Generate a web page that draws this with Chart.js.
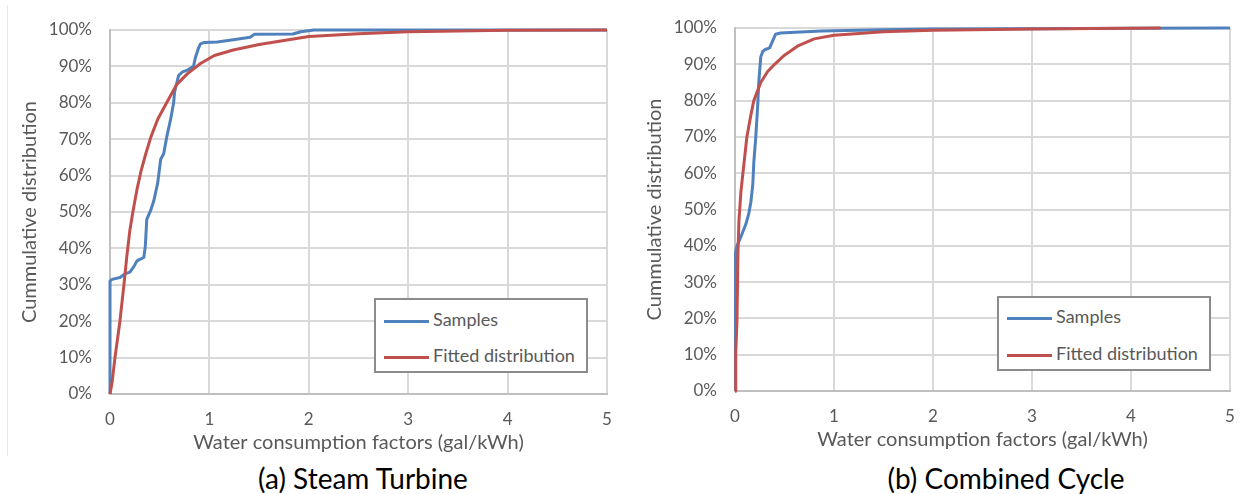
<!DOCTYPE html>
<html>
<head>
<meta charset="utf-8">
<script src="https://cdn.jsdelivr.net/npm/chart.js@4"></script>
<style>
  body { margin: 0; background: #fff; font-family: Lato, "Open Sans", sans-serif; }
  #wrap { position: relative; width: 1243px; height: 494px; overflow: hidden; }
  canvas { position: absolute; }
  .legend { position: absolute; background: #fff; border: 2px solid #8c8c8c; box-sizing: border-box; color: #595959; font-size: 18px; }
  .legend div { position: absolute; left: 8px; height: 20px; line-height: 20px; white-space: nowrap; }
  .legend span { display: inline-block; width: 45px; height: 3px; vertical-align: middle; margin-right: 4px; }
  .caption { position: absolute; top: 461px; font-size: 28px; color: #000; transform: translateX(-50%); white-space: nowrap; }
  .frame { position: absolute; left: 7px; top: 5px; width: 1px; height: 451px; background: #e9e9e9; }
</style>
</head>
<body>
<div id="wrap">
  <div class="frame"></div>
  <canvas id="steam" width="620" height="460" style="left:0;top:0"></canvas>
  <canvas id="combined" width="618" height="460" style="left:625px;top:-3px"></canvas>

  <div class="legend" style="left:374px;top:298px;width:214px;height:75px">
    <div style="top:9px"><span style="background:#4f81bd"></span>Samples</div>
    <div style="top:45px"><span style="background:#c0504d"></span>Fitted distribution</div>
  </div>
  <div class="legend" style="left:997px;top:296px;width:214px;height:75px">
    <div style="top:8px"><span style="background:#4f81bd"></span>Samples</div>
    <div style="top:45px"><span style="background:#c0504d"></span>Fitted distribution</div>
  </div>

  <div class="caption" style="left:363px">(a) Steam Turbine</div>
  <div class="caption" style="left:1006px">(b) Combined Cycle</div>
</div>

<script>
// axis ticks
const xTicks = [0, 1, 2, 3, 4, 5];
const yTicks = [0, 10, 20, 30, 40, 50, 60, 70, 80, 90, 100];

// (a) Steam Turbine - samples (gal/kWh, %)
const stSampleX = [0, 0, 0.02, 0.1, 0.15, 0.2, 0.24, 0.27, 0.3, 0.34, 0.355, 0.37, 0.41, 0.44, 0.48, 0.51, 0.54, 0.57, 0.61, 0.64, 0.65, 0.69, 0.73, 0.78, 0.84, 0.86, 0.89, 0.91, 0.95, 1.08, 1.24, 1.41, 1.45, 1.84, 1.92, 2.05, 5];
const stSampleY = [0, 31, 31.5, 32, 33, 33.5, 35, 36.5, 37, 37.5, 40.5, 48, 50.5, 53, 58, 64.5, 66, 70.5, 75.5, 80, 83, 87.5, 88.5, 89, 90, 92.5, 95, 96.2, 96.6, 96.7, 97.3, 98, 98.8, 98.9, 99.5, 100, 100];
// (a) Steam Turbine - fitted distribution
const stFitX = [0, 0.02, 0.05, 0.1, 0.14, 0.17, 0.2, 0.23, 0.27, 0.31, 0.36, 0.41, 0.48, 0.57, 0.67, 0.78, 0.91, 1.05, 1.24, 1.5, 2, 2.5, 3, 4, 5];
const stFitY = [0, 3, 10, 20, 30, 38, 45, 50, 56, 61, 66, 70.5, 75.5, 80, 85, 88, 90.8, 93, 94.5, 96, 98.2, 99, 99.5, 99.9, 100];

// (b) Combined Cycle - samples
const ccSampleX = [0, 0, 0.01, 0.02, 0.06, 0.11, 0.14, 0.16, 0.18, 0.19, 0.21, 0.23, 0.24, 0.26, 0.28, 0.3, 0.35, 0.41, 0.46, 0.87, 1.5, 2, 3, 4, 5];
const ccSampleY = [0, 20, 38, 40, 42.5, 46, 49, 52, 57, 63, 70, 79, 85, 92, 93.5, 94, 94.5, 98.3, 98.6, 99.2, 99.5, 99.7, 99.8, 99.9, 100];
// (b) Combined Cycle - fitted distribution
const ccFitX = [0, 0.005, 0.01, 0.02, 0.03, 0.04, 0.06, 0.08, 0.12, 0.16, 0.19, 0.26, 0.33, 0.4, 0.5, 0.63, 0.8, 1.0, 1.5, 2, 3, 4.3];
const ccFitY = [0, 5, 10.4, 19.5, 38, 47, 55, 60, 70, 76, 80, 85, 88, 90, 92.5, 95, 97, 98, 99, 99.4, 99.7, 100];

const BLUE = "#4f81bd";
const RED = "#c0504d";
const FONT = "Lato, 'Open Sans', sans-serif";

function pts(xs, ys) {
  return xs.map((x, i) => ({ x: x, y: ys[i] }));
}

function makeChart(id, sx, sy, fx, fy, padTop) {
  const line = (label, data, color, order) => ({
    label, data, order,
    borderColor: color,
    borderWidth: 3,
    pointRadius: 0,
    showLine: true,
    tension: 0,
    clip: 4,
    borderJoinStyle: "round"
  });

  new Chart(document.getElementById(id), {
    type: "scatter",
    data: {
      datasets: [
        line("Samples", pts(sx, sy), BLUE, 1),
        line("Fitted distribution", pts(fx, fy), RED, 0)
      ]
    },
    options: {
      responsive: false,
      animation: false,
      devicePixelRatio: 1,
      layout: { padding: { top: padTop, right: 13, left: 0, bottom: 0 } },
      plugins: { legend: { display: false }, tooltip: { enabled: false } },
      scales: {
        x: {
          type: "linear",
          min: 0, max: 5,
          afterBuildTicks: s => { s.ticks = xTicks.map(v => ({ value: v })); },
          // tick padding would otherwise eat into the plot width
          afterFit: s => { s.height = 66; s.paddingLeft = 0; s.paddingRight = 0; },
          grid: { color: "#d9d9d9", lineWidth: 2, drawTicks: false },
          border: { color: "#bfbfbf", width: 2 },
          ticks: { color: "#595959", font: { family: FONT, size: 17 }, padding: 15, maxRotation: 0 },
          title: {
            display: true,
            text: "Water consumption factors (gal/kWh)",
            color: "#595959",
            font: { family: FONT, size: 20 },
            padding: { top: 0, bottom: 5 }
          }
        },
        y: {
          min: 0, max: 100,
          afterBuildTicks: s => { s.ticks = yTicks.map(v => ({ value: v })); },
          afterFit: s => { s.width = 110; },
          grid: { color: "#d9d9d9", lineWidth: 2, drawTicks: false },
          border: { color: "#bfbfbf", width: 2 },
          ticks: { color: "#595959", font: { family: FONT, size: 17 }, padding: 18, callback: v => v + "%" },
          title: {
            display: true,
            text: "Cummulative distribution",
            color: "#595959",
            font: { family: FONT, size: 20 },
            padding: { top: 18, bottom: 0 }
          }
        }
      }
    }
  });
}

makeChart("steam", stSampleX, stSampleY, stFitX, stFitY, 30);
makeChart("combined", ccSampleX, ccSampleY, ccFitX, ccFitY, 31);
</script>
</body>
</html>
